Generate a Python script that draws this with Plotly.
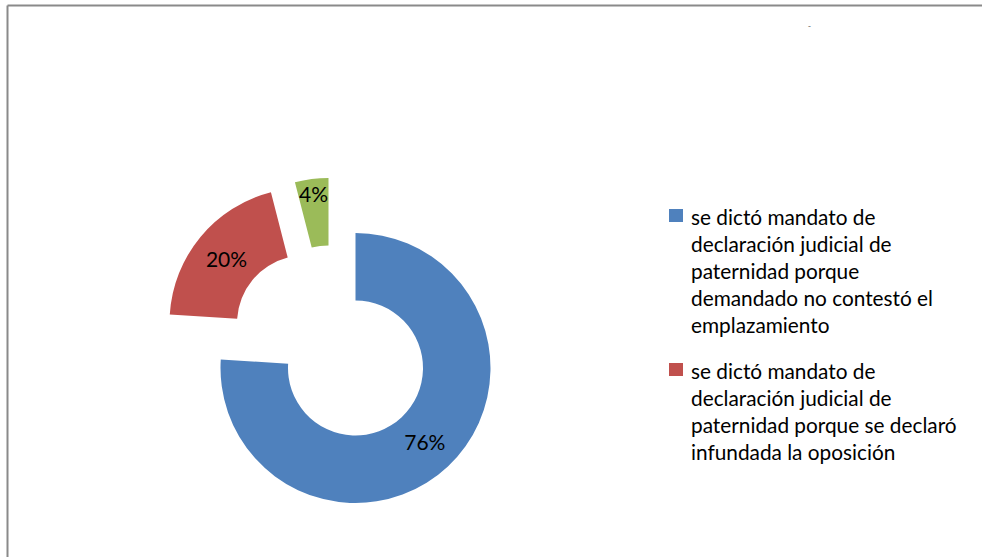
import plotly.graph_objects as go

# Sentencias por tipo de resolución (porcentaje)
labels = [
    "se dictó mandato de declaración judicial de paternidad porque demandado no contestó el emplazamiento",
    "se dictó mandato de declaración judicial de paternidad porque se declaró infundada la oposición",
    "otros",
]
values = [76, 20, 4]

# Legend text, wrapped like the original report
legend_lines = [
    ["se dictó mandato de", "declaración judicial de", "paternidad porque",
     "demandado no contestó el", "emplazamiento"],
    ["se dictó mandato de", "declaración judicial de",
     "paternidad porque se declaró", "infundada la oposición"],
]

colors = ["#4F81BD", "#C0504D", "#9BBB59"]

W, H = 982, 557
CX, CY, R = 355.5, 368.0, 135.0          # donut centre and outer radius (px)
# explosion offset of each slice (px), as laid out in the source workbook
explode = [(0.0, 0.0), (-51.0, -45.0), (-27.0, -55.0)]

fig = go.Figure()

for i, (dx, dy) in enumerate(explode):
    cx, cy = CX + dx, CY + dy
    slice_colors = ["rgba(0,0,0,0)"] * len(values)
    slice_colors[i] = colors[i]
    templates = [""] * len(values)
    templates[i] = "%{percent:.0%}"
    fig.add_trace(go.Pie(
        labels=labels,
        values=values,
        hole=0.5,
        sort=False,
        direction="clockwise",
        rotation=0,
        marker=dict(colors=slice_colors, line=dict(width=0)),
        texttemplate=templates,
        textposition="inside",
        insidetextorientation="horizontal",
        textfont=dict(family="Lato", size=21, color="#000000"),
        hoverinfo="skip",
        showlegend=False,
        domain=dict(
            x=[(cx - R) / W, (cx + R) / W],
            y=[1 - (cy + R) / H, 1 - (cy - R) / H],
        ),
    ))

# chart frame: top and left edges
frame = dict(color="#8a8a8a", width=2)
fig.add_shape(type="line", xref="paper", yref="paper",
              x0=7.5 / W, x1=1.0, y0=1 - 5.5 / H, y1=1 - 5.5 / H, line=frame)
fig.add_shape(type="line", xref="paper", yref="paper",
              x0=7.5 / W, x1=7.5 / W, y0=0, y1=1 - 5.5 / H, line=frame)

# title placeholder
fig.add_annotation(x=813 / W, y=1 - 33 / H, xref="paper", yref="paper",
                   yanchor="middle", yshift=8,
                   text="-", showarrow=False, font=dict(size=9, color="#666666"))

# legend
legend_tops = [202, 356]
for k, top in enumerate(legend_tops):
    fig.add_shape(type="rect", xref="paper", yref="paper",
                  x0=669 / W, x1=683 / W,
                  y0=1 - (top + 20) / H, y1=1 - (top + 7) / H,
                  line=dict(width=0), fillcolor=colors[k])
    fig.add_annotation(x=689 / W, y=1 - top / H, xref="paper", yref="paper",
                       xanchor="left", yanchor="top", align="left",
                       text="<br>".join(legend_lines[k]), showarrow=False,
                       font=dict(family="Lato", size=20.8, color="#000000"))

fig.update_layout(
    width=W, height=H,
    margin=dict(l=0, r=0, t=0, b=0),
    paper_bgcolor="white", plot_bgcolor="white",
    uniformtext=dict(minsize=21, mode="show"),
    showlegend=False,
)

fig.write_html("out.html", config={"displayModeBar": False})
